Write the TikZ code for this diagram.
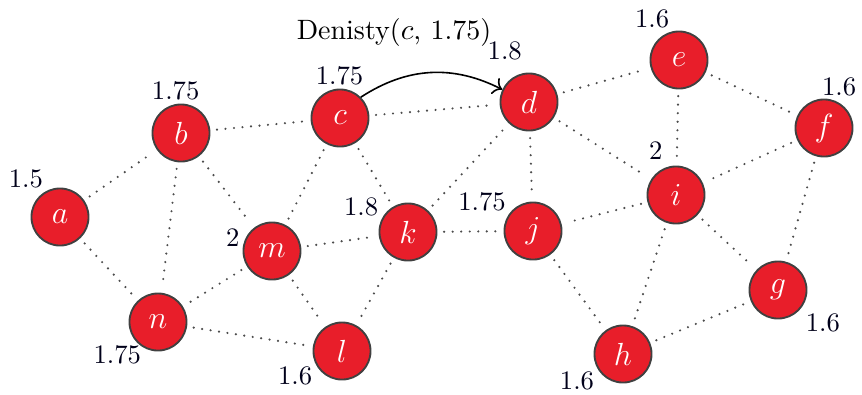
\documentclass[tikz,border=0pt]{standalone}
\usetikzlibrary{arrows.meta, positioning}
\definecolor{vred}{RGB}{232,30,42}
\tikzset{
    vertex/.style={draw=black!75, circle, fill=vred, line width=0.7pt, minimum size=21.4pt, inner sep=0pt, text=white, font=\large},
    link/.style={draw=black!70, line width=0.9pt, line cap=round, dash pattern=on 0pt off 3.2pt, shorten <=2.5pt, shorten >=2.5pt},
    density/.style={font=\normalsize, inner sep=1pt, text=black!90!blue},
    arrow/.style={draw, -{To[scale=1.1]}, line width=0.6pt}
}

\begin{document}
\begin{tikzpicture}[x=0.375pt, y=-0.375pt, every label/.style={density}]
    \useasboundingbox (0,0) rectangle (862,394);
    % vertices
    \node [vertex, label={118:1.5}] (a) at (60,217) {$a$};
    \node [vertex, label={[xshift=-2pt]90:1.75}] (b) at (181,133) {$b$};
    \node [vertex, label={91:1.75}] (c) at (340,118) {$c$};
    \node [vertex, label={[label distance=3.5pt]96:1.8}] (d) at (529,102) {$d$};
    \node [vertex, label={103:1.6}] (e) at (679,60) {$e$};
    \node [vertex, label={[anchor=south west]100:1.6}] (f) at (824,128) {$f$};
    \node [vertex, label={[label distance=1.5pt]108:2}] (i) at (676,195) {$i$};
    \node [vertex, label={177:2}] (m) at (272,251) {$m$};
    \node [vertex, label={155:1.8}] (k) at (408,232) {$k$};
    \node [vertex, label={145:1.75}] (j) at (533,231) {$j$};
    \node [vertex, label={[label distance=-2pt]-125:1.75}] (n) at (158,322) {$n$};
    \node [vertex, label={205:1.6}] (l) at (342,351) {$l$};
    \node [vertex, label={209:1.6}] (h) at (623,354) {$h$};
    \node [vertex, label={[label distance=1pt]-40:1.6}] (g) at (778,290) {$g$};

    % edges
    \foreach \u/\v in {a/b, a/n, b/c, b/n, b/m, c/d, c/m, c/k, m/k, m/l, m/n, n/l, k/l, k/j, k/d,
                       d/j, d/e, d/i, e/i, e/f, f/i, f/g, i/j, i/h, i/g, j/h, h/g}
        \draw [link] (\u) -- (\v);

    % density arrow
    \draw [arrow] (c.45) to [bend left=30] (d.155);
    \node [font=\fontsize{10.5}{12}\selectfont] (dens) at (394,32) {Denisty($c$, 1.75)};
\end{tikzpicture}
\end{document}
